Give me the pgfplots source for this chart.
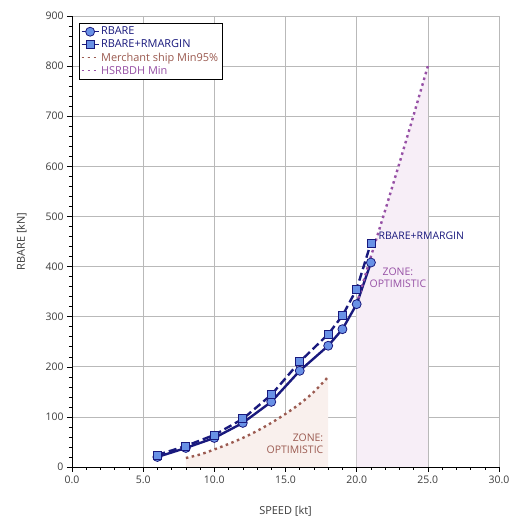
\documentclass[border=0pt]{standalone}
\usepackage{fontspec}
\setmainfont{Open Sans}
\usepackage{pgfplots}
\pgfplotsset{compat=1.18}
\definecolor{navy}{RGB}{25,25,125}
\definecolor{mfill}{RGB}{105,145,230}
\definecolor{brownz}{RGB}{155,90,80}
\definecolor{purplez}{RGB}{150,80,165}
\definecolor{brownfill}{RGB}{249,240,237}
\definecolor{purplefill}{RGB}{247,238,247}
\definecolor{ticktext}{RGB}{60,60,60}

\begin{document}
\begin{tikzpicture}
\begin{axis}[
  scale only axis,
  width=427bp, height=451bp,
  xmin=0, xmax=30, ymin=0, ymax=900,
  xtick={0,5,...,30}, ytick={0,100,...,900},
  minor x tick num=4, minor y tick num=4,
  axis lines=left, axis line style={-, black, line width=0.6pt},
  tick align=outside, tick style={black, line width=0.5pt},
  major tick length=5bp, minor tick length=3bp,
  grid=major, major grid style={gray!55, line width=0.6pt},
  xticklabel style={/pgf/number format/.cd, fixed, fixed zerofill, precision=1},
  /pgf/number format/assume math mode=true,
  ticklabel style={font=\fontsize{10.5}{12}\selectfont, text=ticktext},
  xlabel={SPEED [kt]}, ylabel={RBARE [kN]},
  label style={font=\fontsize{11}{12}\selectfont, text=ticktext},
  xlabel style={yshift=-16bp}, ylabel style={yshift=12bp},
  legend style={at={(rel axis cs:0.016,0.985)}, anchor=north west,
    font=\fontsize{11}{11}\selectfont, draw=black, line width=0.6pt,
    inner sep=2pt, row sep=-0.5pt, legend cell align=left},
  legend image post style={line width=1pt},
  clip=false,
]
% zone fills
\addplot[draw=none, fill=brownfill, forget plot] coordinates {
  (8,0) (8,18) (9,25) (10,35) (11,46) (12,58) (13,72) (14,88) (15,106) (16,126) (17,150) (18,180) (18,0)} -- cycle;
\addplot[draw=none, fill=purplefill, forget plot] coordinates {
  (20,0) (20,325) (21,420) (22,512) (23,606) (24,702) (25,800) (25,0)} -- cycle;

\addplot[navy, line width=2.4pt, mark=*, mark size=4.5bp,
  mark options={fill=mfill, draw=navy, line width=0.8pt, solid}] coordinates {
  (6,20) (8,38) (10,58) (12,88) (14,130) (16,192) (18,242) (19,275) (20,325) (21,408)};
\addlegendentry{\textcolor{navy}{RBARE}}
\addplot[navy, line width=2.4pt, dash pattern=on 8bp off 4bp, mark=square*, mark size=4bp,
  mark options={fill=mfill, draw=navy, line width=0.8pt, solid}] coordinates {
  (6,24) (8,42) (10,64) (12,96) (14,144) (16,210) (18,265) (19,302) (20,355) (21,447)};
\addlegendentry{\textcolor{navy}{RBARE+RMARGIN}}
\addplot[brownz, line width=2.4pt, dash pattern=on 2.5bp off 3.5bp, smooth] coordinates {
  (8,18) (9,25) (10,35) (11,46) (12,58) (13,72) (14,88) (15,106) (16,126) (17,150) (18,180)};
\addlegendentry{\textcolor{brownz}{Merchant ship Min95\%}}
\addplot[purplez, line width=2.4pt, dash pattern=on 2.5bp off 3.5bp] coordinates {
  (20,325) (21,420) (22,512) (23,606) (24,702) (25,800)};
\addlegendentry{\textcolor{purplez}{HSRBDH Min}}

\node[anchor=west, text=navy, font=\fontsize{10.5}{12}\selectfont] at (axis cs:21.3,462) {RBARE+RMARGIN};
\node[align=center, text=purplez, font=\fontsize{10.5}{12}\selectfont] at (axis cs:22.9,377) {ZONE:\\OPTIMISTIC};
\node[align=right, anchor=east, text=brownz, font=\fontsize{10.5}{12}\selectfont] at (axis cs:17.9,46) {ZONE:\\OPTIMISTIC};
\end{axis}
\path (current axis.south west) ++(-72bp,-59bp) (current axis.north east) ++(9bp,16bp);
\end{tikzpicture}
\end{document}
